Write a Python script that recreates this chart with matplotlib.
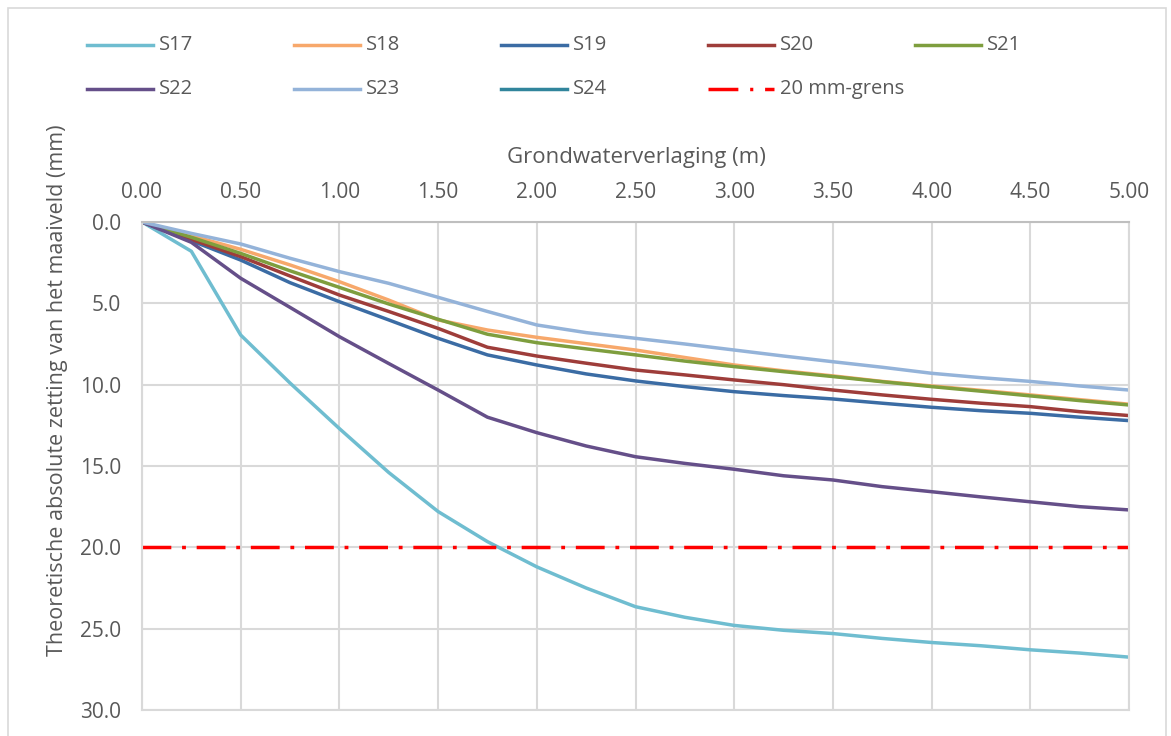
import matplotlib
matplotlib.use('Agg')
import matplotlib.pyplot as plt
from matplotlib.lines import Line2D
from matplotlib.patches import Rectangle
import numpy as np

plt.rcParams['font.family'] = ['Open Sans', 'DejaVu Sans']

# groundwater lowering steps (m)
verlaging = np.arange(0, 5.01, 0.25)

# theoretical settlement per location (mm)
S17 = [0, 1.8, 6.95, 9.9, 12.7, 15.4, 17.8, 19.65, 21.2, 22.5, 23.65,
       24.3, 24.8, 25.1, 25.3, 25.6, 25.85, 26.05, 26.3, 26.5, 26.75]
S18 = [0, 0.84, 1.68, 2.64, 3.67, 4.8, 6.02, 6.64, 7.09, 7.48, 7.87,
       8.33, 8.79, 9.15, 9.46, 9.8, 10.08, 10.35, 10.63, 10.92, 11.2]
S19 = [0, 1.15, 2.34, 3.73, 4.9, 6.02, 7.15, 8.17, 8.79, 9.34, 9.77,
       10.12, 10.43, 10.67, 10.88, 11.14, 11.39, 11.6, 11.76, 12.0, 12.21]
S20 = [0, 1.07, 2.13, 3.32, 4.49, 5.5, 6.54, 7.7, 8.24, 8.68, 9.1,
       9.4, 9.71, 10.0, 10.33, 10.63, 10.9, 11.14, 11.35, 11.66, 11.9]
S21 = [0, 0.94, 1.93, 3.0, 4.02, 5.04, 5.98, 6.9, 7.42, 7.8, 8.17,
       8.55, 8.89, 9.2, 9.5, 9.82, 10.12, 10.4, 10.69, 10.98, 11.25]
S22 = [0, 1.25, 3.46, 5.25, 7.05, 8.7, 10.33, 12.0, 12.95, 13.77, 14.43,
       14.84, 15.2, 15.6, 15.86, 16.27, 16.58, 16.9, 17.2, 17.5, 17.7]
S23 = [0, 0.7, 1.35, 2.23, 3.05, 3.77, 4.63, 5.5, 6.33, 6.8, 7.15,
       7.5, 7.87, 8.24, 8.59, 8.93, 9.3, 9.57, 9.8, 10.08, 10.33]
S24 = [np.nan] * 21
grens = [20.0] * 21

series = [
    ('S17', S17, '#6fbdd0'),
    ('S18', S18, '#f7a86b'),
    ('S19', S19, '#3b6ca4'),
    ('S20', S20, '#9e3d3a'),
    ('S21', S21, '#7e9e3e'),
    ('S22', S22, '#654f89'),
    ('S23', S23, '#94b3d9'),
    ('S24', S24, '#31859c'),
]
grens_style = dict(color='#ff0000', lw=2.5, linestyle=(0, (8.3, 3.1, 1.1, 3.1)))
txt = '#595959'

W, H = 1171, 736
fig = plt.figure(figsize=(W / 100, H / 100), dpi=100)

# outer chart frame
fig.add_artist(Rectangle((8 / W, -0.05), 1158 / W, 1.05 - 8 / H,
                         transform=fig.transFigure, fill=False,
                         edgecolor='#d9d9d9', lw=1.2))

ax = fig.add_axes([142 / W, 1 - 710 / H, 987 / W, 488 / H])

for name, vals, col in series:
    ax.plot(verlaging, vals, color=col, lw=2.5, solid_joinstyle='round')
ax.plot(verlaging, grens, **grens_style)

ax.set_xlim(0, 5)
ax.set_ylim(30, 0)
ax.set_xticks(np.arange(0, 5.01, 0.5))
ax.set_yticks(np.arange(0, 30.1, 5))
ax.xaxis.set_major_formatter(matplotlib.ticker.FormatStrFormatter('%.2f'))
ax.yaxis.set_major_formatter(matplotlib.ticker.FormatStrFormatter('%.1f'))
ax.xaxis.tick_top()
ax.tick_params(axis='both', length=0, labelsize=15, labelcolor=txt)
ax.tick_params(axis='x', pad=14)
ax.tick_params(axis='y', pad=15)
ax.grid(True, color='#d9d9d9', lw=1.5)
ax.set_axisbelow(True)
for side in ['left', 'right', 'bottom']:
    ax.spines[side].set_color('#d9d9d9')
    ax.spines[side].set_linewidth(1.5)
ax.spines['top'].set_color('#bfbfbf')
ax.spines['top'].set_linewidth(1.5)

fig.text(636 / W, 1 - 157 / H, 'Grondwaterverlaging (m)', ha='center',
         va='center', fontsize=16, color=txt)
fig.text(58 / W, 1 - 390 / H,
         'Theoretische absolute zetting van het maaiveld (mm)',
         ha='center', va='center', rotation=90, fontsize=15.5, color=txt)

# legend laid out in two rows of five columns
entries = [(name, dict(color=col, lw=2.5)) for name, _, col in series]
entries.append(('20 mm-grens', dict(color='#ff0000', lw=2.5,
                                    linestyle=(0, (8.6, 3.4, 0.9, 3.4)))))
for i, (label, style) in enumerate(entries):
    row, colno = divmod(i, 5)
    x0 = 87 + colno * 207
    y = 1 - (45 + row * 44) / H
    fig.add_artist(Line2D([x0 / W, (x0 + 66) / W], [y, y],
                          transform=fig.transFigure, **style))
    fig.text((x0 + 72) / W, y, label, ha='left', va='center',
             fontsize=14.5, color=txt)

fig.savefig('out.png', dpi=100)
